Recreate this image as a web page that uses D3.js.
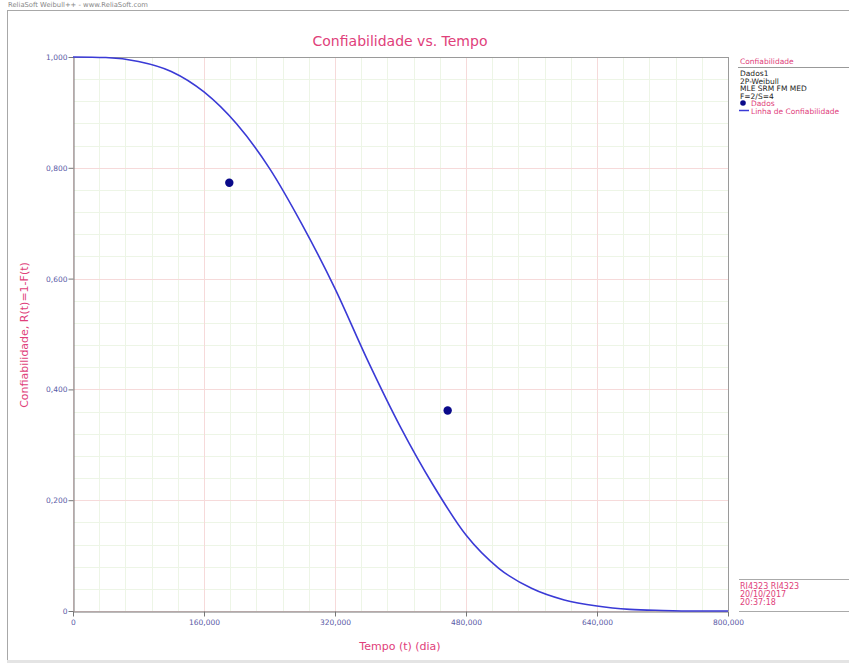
<!DOCTYPE html>
<html>
<head>
<meta charset="utf-8">
<script src="https://cdn.jsdelivr.net/npm/d3@7"></script>
<style>
  body { margin: 0; background: #fff; }
  svg { display: block; font-family: "DejaVu Sans", sans-serif; }
</style>
</head>
<body>
<svg id="chart" width="849" height="663"></svg>
<script>
// valores (tempo em dias)
const tempo = [0, 40, 80, 120, 160, 200, 240, 280, 320, 360, 400,
               440, 480, 520, 560, 600, 640, 680, 720, 760, 800];
const confiabilidade = [1.000, 0.999, 0.992, 0.974, 0.937, 0.879, 0.799, 0.697, 0.582, 0.452, 0.332,
                        0.227, 0.137, 0.077, 0.041, 0.020, 0.009, 0.003, 0.001, 0.000, 0.000];
const dadosTempo = [190.9, 457.6];
const dadosConf = [0.773, 0.362];
const xTicks = [0, 160, 320, 480, 640, 800];
const yTicks = [0, 0.2, 0.4, 0.6, 0.8, 1.0];
const legendInfo = ["Dados1", "2P-Weibull", "MLE SRM FM MED", "F=2/S=4"];
const stampInfo = ["RI4323 RI4323", "20/10/2017", "20:37:18"];

const RED = "#e0407a";
const TICK = "#5a5aa6";
const FRAME = "#9a9a9a";

const W = 849, H = 663;
const mLeft = 73, mRight = 728, mTop = 57, mBottom = 611;

const svg = d3.select("#chart");

const x = d3.scaleLinear().domain([0, 800]).range([mLeft, mRight]);
const y = d3.scaleLinear().domain([0, 1]).range([mBottom, mTop]);

const fmt = d => d === 0 ? "0" : d3.format(".3f")(d).replace(".", ",");

// moldura externa e cabeçalho
svg.append("text")
  .attr("x", 8).attr("y", 7)
  .attr("font-size", 6.8).attr("fill", "#888")
  .text("ReliaSoft Weibull++ - www.ReliaSoft.com");
svg.append("line").attr("x1", 7).attr("x2", W).attr("y1", 10.5).attr("y2", 10.5)
  .attr("stroke", "#a8a8a8");
svg.append("line").attr("x1", 7.5).attr("x2", 7.5).attr("y1", 10).attr("y2", H)
  .attr("stroke", "#a8a8a8");
svg.append("rect").attr("x", 7).attr("y", 660).attr("width", W - 7).attr("height", 3)
  .attr("fill", "#e4e4e4");

// título
svg.append("text")
  .attr("x", 400).attr("y", 46)
  .attr("text-anchor", "middle")
  .attr("font-size", 14).attr("fill", RED)
  .text("Confiabilidade vs. Tempo");

// grade
const grid = svg.append("g");
grid.selectAll(".vminor").data(d3.range(0, 801, 32)).enter().append("line")
  .attr("x1", d => Math.round(x(d)) + 0.5).attr("x2", d => Math.round(x(d)) + 0.5)
  .attr("y1", mTop).attr("y2", mBottom)
  .attr("stroke", "#edf5e6");
grid.selectAll(".hminor").data(d3.range(0, 25).map(i => i * 0.04)).enter().append("line")
  .attr("y1", d => Math.round(y(d)) + 0.5).attr("y2", d => Math.round(y(d)) + 0.5)
  .attr("x1", mLeft).attr("x2", mRight)
  .attr("stroke", "#edf5e6");
grid.selectAll(".vmajor").data(xTicks).enter().append("line")
  .attr("x1", d => Math.round(x(d)) + 0.5).attr("x2", d => Math.round(x(d)) + 0.5)
  .attr("y1", mTop).attr("y2", mBottom)
  .attr("stroke", "#f6dada");
grid.selectAll(".hmajor").data(yTicks).enter().append("line")
  .attr("y1", d => Math.round(y(d)) + 0.5).attr("y2", d => Math.round(y(d)) + 0.5)
  .attr("x1", mLeft).attr("x2", mRight)
  .attr("stroke", "#f6dada");

// moldura do gráfico
svg.append("line").attr("x1", mLeft).attr("x2", mRight).attr("y1", mTop + 0.5).attr("y2", mTop + 0.5)
  .attr("stroke", FRAME);
svg.append("line").attr("x1", mRight + 0.5).attr("x2", mRight + 0.5).attr("y1", mTop).attr("y2", mBottom)
  .attr("stroke", FRAME);

// eixos
const styleAxis = g => {
  g.select(".domain").attr("stroke", "#777");
  g.selectAll(".tick line").attr("stroke", "#777");
  g.selectAll(".tick text").attr("fill", TICK).attr("font-size", 7.5)
    .attr("font-family", "DejaVu Sans, sans-serif");
};

svg.append("g")
  .attr("transform", `translate(0,${mBottom + 0.5})`)
  .call(d3.axisBottom(x).tickValues(xTicks).tickFormat(fmt).tickSize(5).tickSizeOuter(0))
  .call(styleAxis);

svg.append("g")
  .attr("transform", `translate(${mLeft + 0.5},0)`)
  .call(d3.axisLeft(y).tickValues(yTicks).tickFormat(fmt).tickSize(5).tickSizeOuter(0))
  .call(styleAxis)
  .call(g => g.selectAll(".tick text").attr("x", -6));

// títulos dos eixos
svg.append("text")
  .attr("x", 400).attr("y", 650)
  .attr("text-anchor", "middle")
  .attr("font-size", 11).attr("fill", RED)
  .text("Tempo (t) (dia)");
svg.append("text")
  .attr("transform", "translate(28,335) rotate(-90)")
  .attr("text-anchor", "middle")
  .attr("font-size", 11).attr("fill", RED)
  .text("Confiabilidade, R(t)=1-F(t)");

// linha de confiabilidade
const line = d3.line()
  .x((d, i) => x(tempo[i]))
  .y(d => y(d))
  .curve(d3.curveMonotoneX);
svg.append("path")
  .datum(confiabilidade)
  .attr("fill", "none")
  .attr("stroke", "#3a3ad6")
  .attr("stroke-width", 1.6)
  .attr("d", line);

// pontos de dados
svg.append("g").selectAll("circle")
  .data(dadosTempo).enter().append("circle")
  .attr("cx", d => x(d))
  .attr("cy", (d, i) => y(dadosConf[i]))
  .attr("r", 4.2)
  .attr("fill", "#0a0a8a");

// legenda
const lx = 738;
const leg = svg.append("g").attr("font-size", 7.5);
leg.append("text").attr("x", lx + 2).attr("y", 64).attr("fill", RED).text("Confiabilidade");
leg.append("line").attr("x1", lx).attr("x2", W).attr("y1", 67.5).attr("y2", 67.5).attr("stroke", "#999");
leg.selectAll(".info").data(legendInfo).enter().append("text")
  .attr("x", lx + 2).attr("y", (d, i) => 76 + i * 7.5)
  .attr("fill", "#222")
  .text(d => d);
leg.append("circle").attr("cx", lx + 5).attr("cy", 103).attr("r", 2.8).attr("fill", "#0a0a8a");
leg.append("text").attr("x", lx + 13).attr("y", 106).attr("fill", RED).text("Dados");
leg.append("line").attr("x1", lx + 1).attr("x2", lx + 11).attr("y1", 110.5).attr("y2", 110.5)
  .attr("stroke", "#3a3ad6").attr("stroke-width", 1.5);
leg.append("text").attr("x", lx + 13).attr("y", 113.5).attr("fill", RED).text("Linha de Confiabilidade");

// carimbo
svg.append("line").attr("x1", 739).attr("x2", W).attr("y1", 579.5).attr("y2", 579.5).attr("stroke", "#aaa");
svg.append("line").attr("x1", 739).attr("x2", W).attr("y1", 611.5).attr("y2", 611.5).attr("stroke", "#aaa");
svg.append("g").attr("font-size", 8).selectAll("text")
  .data(stampInfo).enter().append("text")
  .attr("x", 740).attr("y", (d, i) => 589 + i * 7.8)
  .attr("fill", RED)
  .text(d => d);
</script>
</body>
</html>
